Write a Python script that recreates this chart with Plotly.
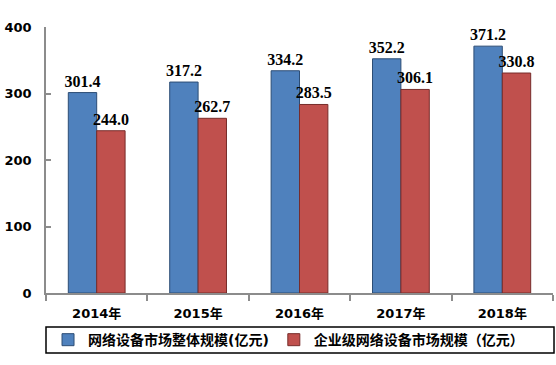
import plotly.graph_objects as go

categories = ["2014年", "2015年", "2016年", "2017年", "2018年"]
overall = [301.4, 317.2, 334.2, 352.2, 371.2]
enterprise = [244.0, 262.7, 283.5, 306.1, 330.8]
series_names = ["网络设备市场整体规模(亿元)", "企业级网络设备市场规模（亿元）"]
y_ticks = [0, 100, 200, 300, 400]

label_font = dict(family="Liberation Serif, Times New Roman, serif", size=16,
                  color="#000000", weight="bold")

fig = go.Figure()
fig.add_trace(go.Bar(
    x=categories, y=overall, name=series_names[0],
    marker=dict(color="#4F81BD", line=dict(color="#2C4D75", width=1)),
    text=[f"{v:.1f}" for v in overall], textposition="outside",
    textfont=label_font, cliponaxis=False, constraintext="none",
))
fig.add_trace(go.Bar(
    x=categories, y=enterprise, name=series_names[1],
    marker=dict(color="#C0504D", line=dict(color="#772C2A", width=1)),
    text=[f"{v:.1f}" for v in enterprise], textposition="outside",
    textfont=label_font, cliponaxis=False, constraintext="none",
))

fig.update_layout(
    width=556, height=365,
    margin=dict(l=46, r=3, t=27, b=72),
    paper_bgcolor="white", plot_bgcolor="white",
    barmode="group", bargap=0.44, bargroupgap=0.0,
    font=dict(family="DejaVu Sans, Noto Sans CJK SC, sans-serif", size=13, color="#000000"),
    showlegend=True,
    legend=dict(
        orientation="h", x=0.004, y=-0.177, xanchor="left", yanchor="middle",
        borderwidth=0, bgcolor="rgba(0,0,0,0)",
        font=dict(family="DejaVu Sans, Noto Sans CJK SC, sans-serif", size=14, weight="bold"),
        itemwidth=30,
        tracegroupgap=0,
    ),
    shapes=[dict(type="rect", xref="paper", yref="paper",
                 x0=0.0, x1=1.002, y0=-0.226, y1=-0.128,
                 line=dict(color="#000000", width=1.5))],
)
fig.update_yaxes(
    range=[0, 400], tickvals=y_ticks, showgrid=False, zeroline=False,
    showline=True, linecolor="#8C8C8C", linewidth=1.5,
    ticks="inside", ticklen=5, tickcolor="#8C8C8C", tickwidth=1.5,
    tickfont=dict(family="DejaVu Sans, sans-serif", size=13, weight="bold"),
    ticklabelstandoff=10,
)
fig.update_xaxes(
    showgrid=False, showline=True, linecolor="#8C8C8C", linewidth=1.5,
    ticks="outside", tickson="boundaries", ticklen=6, tickcolor="#8C8C8C", tickwidth=1.5,
    tickfont=dict(family="DejaVu Sans, Noto Sans CJK SC, sans-serif", size=13, weight="bold"),
    ticklabelstandoff=8,
)

fig.write_html("out.html")
